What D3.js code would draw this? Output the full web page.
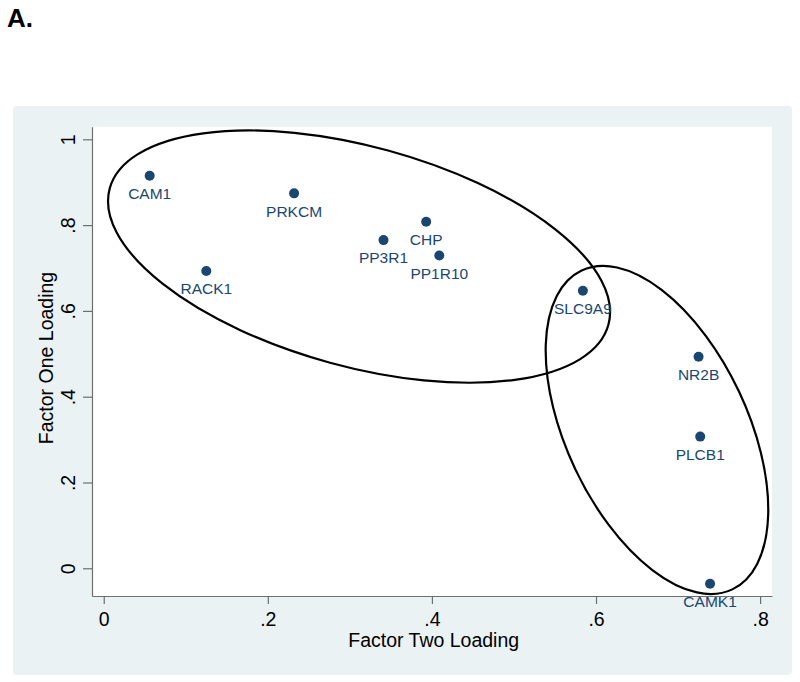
<!DOCTYPE html>
<html>
<head>
<meta charset="utf-8">
<script src="https://cdn.jsdelivr.net/npm/d3@7"></script>
<style>
  html, body { margin: 0; padding: 0; background: #ffffff; }
  svg { display: block; font-family: "Liberation Sans", Arial, Helvetica, sans-serif; }
</style>
</head>
<body>
<div id="chart"></div>
<script>
// ---- data ----
const genes = ["CAM1", "PRKCM", "RACK1", "PP3R1", "CHP", "PP1R10", "SLC9A9", "NR2B", "PLCB1", "CAMK1"];
const factorTwo = [0.056, 0.232, 0.125, 0.341, 0.393, 0.409, 0.584, 0.725, 0.727, 0.739];
const factorOne = [0.915, 0.874, 0.693, 0.765, 0.808, 0.729, 0.647, 0.493, 0.307, -0.036];
const xTicks = [0, 0.2, 0.4, 0.6, 0.8];
const yTicks = [0, 0.2, 0.4, 0.6, 0.8, 1];
const xTickLabels = ["0", ".2", ".4", ".6", ".8"];
const yTickLabels = ["0", ".2", ".4", ".6", ".8", "1"];
// cluster ellipses: centre in data units
const ellipseCentersX = [0.3112, 0.6743];
const ellipseCentersY = [0.7266, 0.3224];

// ---- layout ----
const W = 800, H = 682;
const plot = { left: 92, right: 772, top: 126.7, bottom: 596 };
const ellipseShape = [
  { rx: 258.5, ry: 110, rot: 15.3 },
  { rx: 176.3, ry: 90.6, rot: 64.7 }
];
const navy = "#1a476f";

const svg = d3.select("#chart").append("svg").attr("width", W).attr("height", H);

// title
svg.append("text").attr("x", 7).attr("y", 27)
  .attr("font-size", 26).attr("font-weight", "bold").attr("fill", "#000").text("A.");

// outer panel
svg.append("rect").attr("x", 13).attr("y", 106).attr("width", 779).attr("height", 569)
  .attr("rx", 4).attr("fill", "#eaf2f3");

// plot region
svg.append("rect").attr("x", plot.left).attr("y", plot.top)
  .attr("width", plot.right - plot.left).attr("height", plot.bottom - plot.top)
  .attr("fill", "#ffffff");

const x = d3.scaleLinear().domain([-0.0143, 0.8145]).range([plot.left, plot.right]);
const y = d3.scaleLinear().domain([-0.0646, 1.0294]).range([plot.bottom, plot.top]);

// axes
const xAxis = d3.axisBottom(x).tickValues(xTicks).tickSizeInner(8).tickSizeOuter(0).tickPadding(8)
  .tickFormat((d, i) => xTickLabels[i]);
const gx = svg.append("g").attr("transform", `translate(0,${plot.bottom})`).call(xAxis);
gx.select(".domain").attr("stroke", "#6e6e6e").attr("stroke-width", 1.2);
gx.selectAll(".tick line").attr("stroke", "#6e6e6e").attr("stroke-width", 1.2);
gx.selectAll(".tick text").attr("font-size", 19.5).attr("fill", "#000")
  .attr("font-family", "'Liberation Sans', Arial, sans-serif");

const yAxis = d3.axisLeft(y).tickValues(yTicks).tickSizeInner(9).tickSizeOuter(0).tickPadding(0)
  .tickFormat((d, i) => yTickLabels[i]);
const gy = svg.append("g").attr("transform", `translate(${plot.left},0)`).call(yAxis);
gy.select(".domain").attr("stroke", "#6e6e6e").attr("stroke-width", 1.2);
gy.selectAll(".tick line").attr("stroke", "#6e6e6e").attr("stroke-width", 1.2);
gy.selectAll(".tick text")
  .attr("font-size", 19.5).attr("fill", "#000")
  .attr("font-family", "'Liberation Sans', Arial, sans-serif")
  .attr("x", null).attr("dy", null)
  .attr("text-anchor", "middle")
  .attr("transform", "translate(-17,0) rotate(-90)");

// axis titles
svg.append("text").attr("x", 433.7).attr("y", 646.5).attr("text-anchor", "middle")
  .attr("font-size", 19.5).attr("fill", "#000").text("Factor Two Loading");
svg.append("text").attr("text-anchor", "middle")
  .attr("transform", "translate(53,358) rotate(-90)")
  .attr("font-size", 19.5).attr("fill", "#000").text("Factor One Loading");

// ellipses
ellipseShape.forEach((e, i) => {
  const cx = x(ellipseCentersX[i]), cy = y(ellipseCentersY[i]);
  svg.append("ellipse")
    .attr("cx", 0).attr("cy", 0).attr("rx", e.rx).attr("ry", e.ry)
    .attr("transform", `translate(${cx},${cy}) rotate(${e.rot})`)
    .attr("fill", "none").attr("stroke", "#000").attr("stroke-width", 2.2);
});

// points
const pts = genes.map((g, i) => ({ g, fx: factorTwo[i], fy: factorOne[i] }));
svg.append("g").selectAll("circle").data(pts).join("circle")
  .attr("cx", d => x(d.fx)).attr("cy", d => y(d.fy)).attr("r", 5)
  .attr("fill", navy);
svg.append("g").selectAll("text").data(pts).join("text")
  .attr("x", d => x(d.fx)).attr("y", d => y(d.fy) + 23.3)
  .attr("text-anchor", "middle").attr("font-size", 15.5).attr("fill", navy)
  .text(d => d.g);
</script>
</body>
</html>
